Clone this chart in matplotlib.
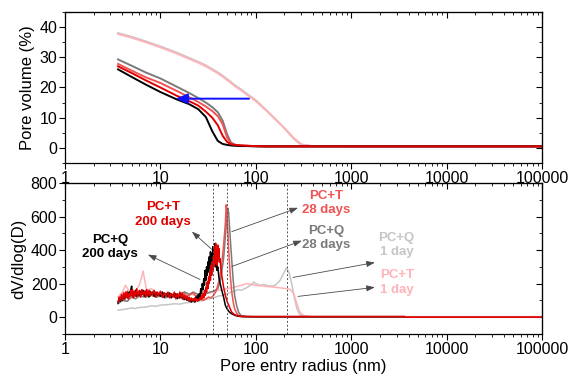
import numpy as np
import matplotlib
matplotlib.use("Agg")
from matplotlib import pyplot as plt
from matplotlib.ticker import LogLocator, FixedLocator, MultipleLocator, NullFormatter, FuncFormatter

plt.rcParams["font.family"] = ["Liberation Sans", "DejaVu Sans"]

# %% cumulative pore volume (%)

r_cum = [3.6, 5, 7, 10, 15, 20, 25, 30, 35, 40, 45, 50, 55, 60, 70, 80, 100,
         130, 170, 200, 250, 300, 400, 1000, 100000]

cum_q1 = [38, 36.8, 35.3, 33.6, 31.5, 29.8, 28.5, 27.3, 26.1, 25, 23.9, 22.8, 21.8,
          20.8, 19.4, 18.0, 15.8, 12.4, 8.8, 6.5, 3.0, 1.0, 0.5, 0.5, 0.5]
cum_t1 = [37.7, 36.5, 35.0, 33.3, 31.2, 29.5, 28.2, 27.0, 25.8, 24.7, 23.6, 22.5, 21.5,
          20.5, 19.1, 17.7, 15.5, 12.2, 8.7, 6.5, 3.3, 1.2, 0.6, 0.5, 0.5]
cum_q28 = [29.3, 27.2, 25.0, 23.0, 20.2, 18.2, 16.5, 15.0, 13.5, 11.8, 9.0, 4.5, 1.8,
           1.1, 0.8, 0.7, 0.6, 0.5, 0.5, 0.5, 0.5, 0.5, 0.5, 0.5, 0.5]
cum_t28 = [27.8, 25.6, 23.4, 21.5, 18.8, 16.8, 15.2, 13.7, 12.2, 10.5, 7.8, 3.5, 1.4,
           1.0, 0.8, 0.7, 0.6, 0.5, 0.5, 0.5, 0.5, 0.5, 0.5, 0.5, 0.5]
cum_t200 = [27.0, 24.8, 22.4, 20.0, 17.2, 15.5, 14.0, 12.0, 10.0, 7.5, 4.0, 2.0, 1.2,
            1.0, 0.8, 0.7, 0.6, 0.5, 0.5, 0.5, 0.5, 0.5, 0.5, 0.5, 0.5]
cum_q200 = [26.0, 23.5, 21.0, 18.5, 16.0, 14.5, 12.8, 10.2, 5.5, 2.3, 1.3, 1.0, 0.8,
            0.7, 0.6, 0.6, 0.5, 0.5, 0.5, 0.5, 0.5, 0.5, 0.5, 0.5, 0.5]

# %% differential curves dV/dlog(D)

r_q200 = [3.6, 3.7, 3.8, 3.9, 4.0, 4.1, 4.2, 4.3, 4.4, 4.5, 4.6, 4.7, 4.8, 4.9, 5.0,
          5.1, 5.2, 5.35, 5.5, 5.65, 5.8, 6.0, 6.2, 6.4, 6.6, 6.8, 7.0, 7.2, 7.4, 7.6,
          7.8, 8.0, 8.3, 8.6, 9.0, 9.3, 9.6, 10, 10.5, 11, 11.5, 12, 12.5, 13, 13.5,
          14, 14.5, 15, 15.5, 16, 16.5, 17, 17.5, 18, 18.5, 19, 19.5, 20, 20.5, 21,
          21.5, 22, 22.5, 23, 23.5, 24, 24.5, 25, 25.5, 26, 26.5, 27, 27.5, 28, 28.5,
          29, 29.5, 30, 30.5, 31, 31.5, 32, 32.5, 33, 33.5, 34, 34.5, 35, 35.5, 36,
          36.5, 37, 37.5, 38, 38.5, 39, 40, 41, 42, 44, 46, 48, 50, 53, 56, 60, 65,
          70, 100, 3600]
dv_q200 = [85, 110, 95, 120, 100, 130, 110, 140, 120, 135, 115, 150, 130, 165, 185,
           125, 150, 130, 160, 125, 145, 130, 155, 135, 160, 125, 150, 130, 145, 120,
           155, 135, 150, 125, 145, 130, 140, 125, 150, 120, 140, 125, 145, 115, 135,
           120, 140, 110, 130, 115, 135, 110, 125, 105, 120, 100, 115, 95, 110, 90,
           105, 95, 110, 90, 120, 100, 130, 110, 140, 120, 170, 140, 200, 165, 230,
           190, 280, 220, 300, 250, 330, 270, 360, 290, 390, 310, 380, 320, 420, 340,
           400, 330, 440, 300, 360, 280, 300, 240, 210, 160, 120, 70, 50, 30, 20, 12,
           6, 4, 3, 3]

r_t200 = [3.6, 3.7, 3.8, 3.9, 4.0, 4.1, 4.2, 4.3, 4.4, 4.5, 4.6, 4.7, 4.8, 4.9, 5.0,
          5.1, 5.2, 5.35, 5.5, 5.65, 5.8, 6.0, 6.2, 6.4, 6.6, 6.8, 7.0, 7.2, 7.4, 7.6,
          7.8, 8.0, 8.3, 8.6, 9.0, 9.3, 9.6, 10, 10.5, 11, 11.5, 12, 12.5, 13, 13.5,
          14, 14.5, 15, 15.5, 16, 16.5, 17, 17.5, 18, 18.5, 19, 19.5, 20, 20.5, 21,
          21.5, 22, 22.5, 23, 23.5, 24, 24.5, 25, 25.5, 26, 26.5, 27, 27.5, 28, 28.5,
          29, 29.5, 30, 30.5, 31, 31.5, 32, 32.5, 33, 33.5, 34, 34.5, 35, 35.5, 36,
          36.5, 37, 37.5, 38, 38.5, 39, 39.5, 40, 40.5, 41, 41.5, 42, 43, 44, 46, 48,
          50, 53, 56, 60, 65, 70, 100, 3600, 3700, 100000]
dv_t200 = [90, 120, 100, 135, 105, 145, 115, 150, 120, 155, 110, 140, 125, 160, 130,
           165, 115, 155, 125, 170, 130, 160, 120, 165, 135, 155, 120, 165, 130, 160,
           125, 150, 135, 160, 120, 150, 130, 155, 120, 145, 125, 150, 115, 140, 120,
           150, 110, 140, 115, 150, 120, 145, 105, 130, 110, 125, 100, 120, 95, 115,
           100, 110, 95, 115, 100, 110, 95, 105, 100, 115, 105, 130, 110, 140, 115,
           160, 130, 180, 150, 210, 170, 240, 200, 270, 220, 310, 250, 330, 280, 360,
           300, 420, 320, 440, 330, 400, 310, 430, 350, 410, 330, 350, 300, 250, 180,
           130, 95, 60, 30, 15, 8, 5, 4, 4, 0, 0]

r_t28 = [3.6, 3.8, 4.0, 4.25, 4.5, 4.75, 5.0, 5.25, 5.5, 5.75, 6.0, 6.25, 6.5, 6.75,
         7.0, 7.5, 8.0, 8.5, 9.0, 9.5, 10, 11, 12, 13, 14, 15, 16, 17, 18, 19, 20,
         22, 24, 26, 28, 30, 32, 34, 36, 38, 40, 42, 44, 46, 48, 49, 50, 52, 54, 56,
         58, 60, 63, 66, 70, 80, 100000]
dv_t28 = [90, 115, 125, 105, 130, 110, 150, 115, 140, 120, 150, 125, 140, 130, 160,
          130, 145, 125, 150, 130, 125, 145, 120, 140, 125, 135, 115, 130, 140, 125,
          130, 145, 120, 110, 100, 110, 120, 115, 130, 150, 190, 240, 320, 430, 560,
          670, 620, 400, 250, 150, 90, 50, 25, 10, 5, 2, 2]

r_q28 = [3.6, 4.0, 4.5, 5.0, 5.5, 6.0, 7.0, 8.0, 9.0, 10, 11, 12, 14, 16, 18, 20, 22,
         24, 26, 28, 30, 33, 36, 40, 43, 46, 48, 50, 51, 52, 54, 56, 58, 60, 63, 66,
         70, 80, 100000]
dv_q28 = [80, 100, 95, 120, 110, 125, 120, 130, 120, 125, 115, 120, 130, 140, 150,
          135, 150, 140, 125, 130, 140, 150, 155, 170, 230, 350, 480, 600, 650, 620,
          470, 340, 220, 130, 70, 30, 10, 3, 3]

r_q1 = [3.6, 4.0, 4.5, 5.0, 5.5, 6.0, 7.0, 8.0, 9.0, 10, 12, 14, 16, 18, 20, 22, 25,
        28, 30, 33, 36, 40, 45, 50, 55, 60, 65, 70, 80, 90, 95, 100, 110, 120, 140,
        160, 180, 195, 210, 225, 240, 255, 270, 290, 310, 400, 100000]
dv_q1 = [42, 45, 50, 55, 52, 58, 60, 68, 65, 72, 75, 80, 78, 85, 88, 90, 95, 100,
         105, 110, 115, 125, 130, 140, 150, 155, 165, 160, 175, 195, 210, 200, 190,
         195, 185, 190, 220, 260, 295, 260, 190, 110, 50, 15, 5, 2, 2]

r_t1 = [3.6, 4.0, 4.3, 4.6, 5.0, 5.5, 6.0, 6.3, 6.6, 6.9, 7.2, 8.0, 9.0, 10, 12, 14,
        16, 18, 20, 22, 25, 28, 30, 33, 36, 40, 45, 50, 60, 70, 80, 90, 100, 120,
        150, 180, 210, 230, 250, 270, 290, 320, 400, 100000]
dv_t1 = [120, 150, 190, 165, 140, 160, 190, 230, 275, 210, 160, 170, 150, 145, 140,
         135, 130, 150, 140, 135, 125, 130, 140, 145, 150, 160, 165, 170, 180, 190,
         200, 195, 190, 185, 180, 175, 170, 165, 140, 80, 30, 8, 2, 2]

marker_lines = [36, 49.5, 212]

c_q1, c_t1 = "#c6c6c6", "#ffb3b8"
c_q28, c_t28 = "#7a7a7a", "#f25252"
c_q200, c_t200 = "#000000", "#e00000"

xticks = [1, 10, 100, 1000, 10000, 100000]

fig = plt.figure(figsize=(5.69, 3.82), dpi=100)
ax1 = fig.add_axes([0.1142, 0.5733, 0.8383, 0.3953])
ax2 = fig.add_axes([0.1142, 0.1257, 0.8383, 0.3953])


def style_axis(ax, ymajor, yminor):
    ax.set_xscale("log")
    ax.set_xlim(1, 100000)
    ax.xaxis.set_major_locator(FixedLocator(xticks))
    ax.xaxis.set_minor_locator(LogLocator(base=10, subs=np.arange(2, 10), numticks=20))
    ax.xaxis.set_minor_formatter(NullFormatter())
    ax.xaxis.set_major_formatter(FuncFormatter(lambda v, p: f"{v:.0f}"))
    ax.yaxis.set_major_locator(MultipleLocator(ymajor))
    ax.yaxis.set_minor_locator(MultipleLocator(yminor))
    ax.tick_params(axis="both", which="major", labelsize=11.5, length=4, width=0.8, pad=1.5)
    ax.tick_params(axis="both", which="minor", length=2.2, width=0.6)
    for s in ax.spines.values():
        s.set_linewidth(0.9)
    # mirrored ticks on top and right, pointing inward, no labels
    top = ax.secondary_xaxis("top")
    top.xaxis.set_major_locator(FixedLocator(xticks))
    top.xaxis.set_minor_locator(LogLocator(base=10, subs=np.arange(2, 10), numticks=20))
    top.tick_params(axis="x", which="both", direction="in", labeltop=False)
    top.tick_params(axis="x", which="major", length=4, width=0.8)
    top.tick_params(axis="x", which="minor", length=2.2, width=0.6)
    right = ax.secondary_yaxis("right")
    right.yaxis.set_major_locator(MultipleLocator(ymajor))
    right.yaxis.set_minor_locator(MultipleLocator(yminor))
    right.tick_params(axis="y", which="both", direction="in", labelright=False)
    right.tick_params(axis="y", which="major", length=4, width=0.8)
    right.tick_params(axis="y", which="minor", length=2.2, width=0.6)


# %% top: cumulative pore volume

lw = 1.4
ax1.plot(r_cum, cum_q1, color=c_q1, lw=lw)
ax1.plot(r_cum, cum_t1, color=c_t1, lw=lw)
ax1.plot(r_cum, cum_q28, color=c_q28, lw=lw)
ax1.plot(r_cum, cum_t28, color=c_t28, lw=lw)
ax1.plot(r_cum, cum_q200, color=c_q200, lw=lw)
ax1.plot(r_cum, cum_t200, color=c_t200, lw=lw)
ax1.annotate("", xy=(14.5, 16.3), xytext=(85, 16.3),
             arrowprops=dict(arrowstyle="-|>,head_length=0.7,head_width=0.3",
                             color="#1010ff", lw=1.4, shrinkA=0, shrinkB=0))
ax1.set_ylim(-5, 45)
style_axis(ax1, 10, 5)
ax1.set_ylabel("Pore volume (%)", fontsize=12, labelpad=3)

# %% bottom: pore size distribution

lw2 = 1.1
ax2.plot(r_q1, dv_q1, color=c_q1, lw=lw2)
ax2.plot(r_t1, dv_t1, color=c_t1, lw=lw2)
ax2.plot(r_q28, dv_q28, color=c_q28, lw=lw2)
ax2.plot(r_t28, dv_t28, color=c_t28, lw=lw2)
ax2.plot(r_q200, dv_q200, color=c_q200, lw=lw2)
ax2.plot(r_t200, dv_t200, color=c_t200, lw=lw2)
for xv in marker_lines:
    ax2.axvline(xv, color="#555555", lw=0.7, ls=(0, (2, 2)))

ax2.set_ylim(-100, 800)
style_axis(ax2, 200, 100)
ax2.set_ylabel("dV/dlog(D)", fontsize=12, labelpad=3)
ax2.set_xlabel("Pore entry radius (nm)", fontsize=12, labelpad=2)

arrow_kw = dict(arrowstyle="-|>,head_length=0.5,head_width=0.18", color="#4a4a4a",
                lw=0.6, shrinkA=0, shrinkB=0)
labels = [
    ("PC+T\n200 days", c_t200, (10.6, 612), (34.8, 403), (21.4, 510)),
    ("PC+Q\n200 days", c_q200, (2.96, 420), (26, 225), (7.4, 373)),
    ("PC+T\n28 days", c_t28, (545, 681), (56, 510), (277, 652)),
    ("PC+Q\n28 days", c_q28, (545, 474), (56, 302), (304, 456)),
    ("PC+Q\n1 day", c_q1, (3000, 432), (245, 237), (1770, 326)),
    ("PC+T\n1 day", c_t1, (3000, 207), (277, 124), (1770, 178)),
]
for text, col, pos, start, end in labels:
    ax2.annotate("", xy=end, xytext=start, arrowprops=arrow_kw)
    ax2.text(pos[0], pos[1], text, color=col, fontsize=9.5, fontweight="bold",
             ha="center", va="center", linespacing=1.25)

fig.savefig("out.png", dpi=100)
